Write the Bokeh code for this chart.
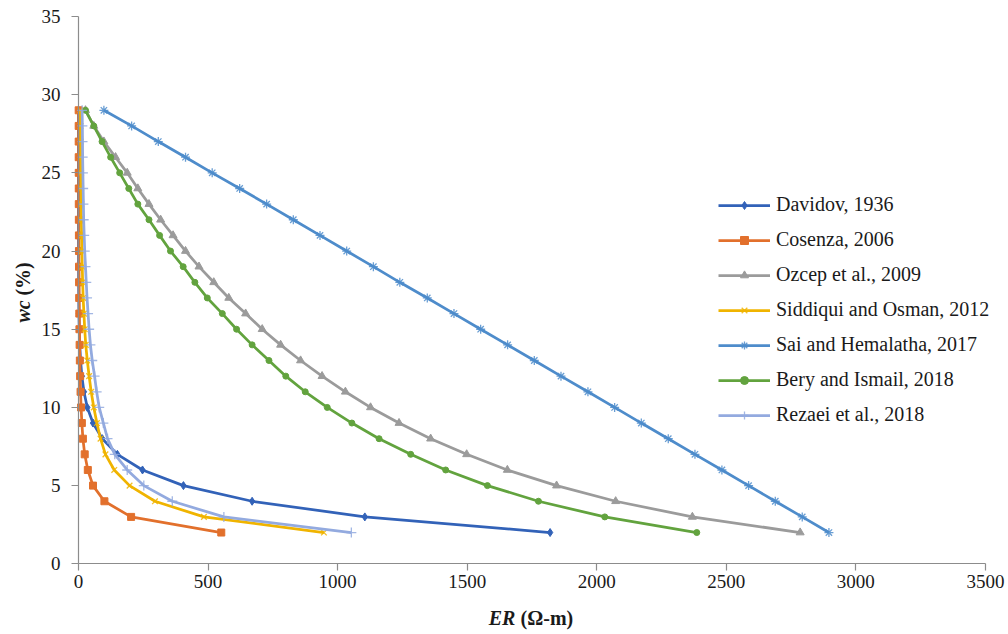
import math
from bokeh.plotting import figure
from bokeh.models import (Legend, LegendItem, Range1d, FixedTicker, LinearAxis, Label,
                          CustomJSTickFormatter)
from bokeh.core.properties import value
from bokeh.embed import file_html
from bokeh.resources import INLINE

# water content (%) from 2 to 29
wc = [2, 3, 4, 5, 6, 7, 8, 9, 10, 11, 12, 13, 14, 15, 16, 17, 18, 19, 20,
      21, 22, 23, 24, 25, 26, 27, 28, 29]

davidov = [1820, 1105, 670, 405, 247, 150, 92, 56, 34, 21, 13, 8, 4.8, 2.9,
           1.8, 1.1, 0.7, 0.4, 0.25, 0.15, 0.09, 0.06, 0.03, 0.02, 0.01,
           0.01, 0.005, 0.003]
cosenza = [551, 203, 100, 56, 36, 24, 17, 13, 10, 8, 6.4, 5.2, 4.4, 3.6, 3.1,
           2.7, 2.3, 2.0, 1.8, 1.6, 1.4, 1.2, 1.1, 1.0, 0.9, 0.8, 0.75, 0.7]
ozcep = [2785, 2369, 2073, 1845, 1655, 1498, 1359, 1237, 1127, 1030, 940, 857,
         780, 709, 645, 580, 522, 465, 413, 365, 317, 272, 229, 188, 143, 98,
         59, 27]
siddiqui = [947, 484, 295, 197, 138, 104, 85, 71, 59, 49, 41, 34, 28, 24, 21,
            18, 16, 14.5, 13, 12, 11, 10.5, 10, 9.5, 9, 8.5, 8, 7.5]
sai = [2896, 2793, 2689, 2586, 2483, 2379, 2276, 2172, 2069, 1966, 1862, 1759,
       1656, 1552, 1449, 1346, 1240, 1138, 1035, 932, 829, 726, 622, 516, 413,
       308, 205, 98]
bery = [2386, 2031, 1775, 1578, 1417, 1282, 1160, 1055, 960, 875, 800, 735,
        670, 610, 555, 497, 449, 404, 355, 313, 272, 229, 194, 159, 124, 91,
        59, 27]
rezaei = [1053, 561, 362, 252, 188, 140, 112, 96, 80, 70, 62, 53, 46, 41, 37,
          33, 30, 27, 24, 22, 20, 19, 18, 17, 16, 15.5, 15, 14]

series_names = ["Davidov, 1936", "Cosenza, 2006", "Ozcep et al., 2009",
                "Siddiqui and Osman, 2012", "Sai and Hemalatha, 2017",
                "Bery and Ismail, 2018", "Rezaei et al., 2018"]
series_values = [davidov, cosenza, ozcep, siddiqui, sai, bery, rezaei]

x_ticks = [0, 500, 1000, 1500, 2000, 2500, 3000, 3500]
y_ticks = [0, 5, 10, 15, 20, 25, 30, 35]
x_tick_labels = ["0", "500", "1000", "1500", "2000", "2500", "3000", "3500"]
y_tick_labels = ["0", "5", "10", "15", "20", "25", "30", "35"]

colors = ["#3262B8", "#E2702C", "#9B9B9B", "#F0B400", "#4E8CCB", "#62A33E", "#93AADF"]
markers = ["diamond", "square", "triangle", "x", "asterisk", "circle", "cross"]
msizes = [8, 7, 8, 8, 9, 6, 10]

SERIF = "Liberation Serif"
TXT = "#1a1a1a"

# frame covers the whole canvas; axes sit at data 0 (fixed_location)
p = figure(width=1008, height=634, x_range=Range1d(-301, 3589), y_range=Range1d(-4.52, 36.02),
           output_backend="svg", toolbar_location=None,
           x_axis_location=None, y_axis_location=None,
           min_border_left=0, min_border_right=0, min_border_top=0,
           min_border_bottom=0)
p.outline_line_color = None
p.xgrid.visible = False
p.ygrid.visible = False
p.background_fill_color = "white"

blank = CustomJSTickFormatter(code="return ''")
xax = LinearAxis(fixed_location=0, bounds=(0, 3500), ticker=FixedTicker(ticks=x_ticks),
                 formatter=blank)
yax = LinearAxis(fixed_location=0, bounds=(0, 35), ticker=FixedTicker(ticks=y_ticks),
                 formatter=blank)
for ax in (xax, yax):
    ax.axis_line_color = "#8C8C8C"
    ax.axis_line_width = 1.2
    ax.major_tick_line_color = "#8C8C8C"
    ax.major_tick_line_width = 1.2
    ax.major_tick_out = 7
    ax.major_tick_in = 0
    ax.minor_tick_out = 0
    ax.minor_tick_in = 0
p.add_layout(xax, "below")
p.add_layout(yax, "left")

# tick labels in the serif face
p.text(x=x_ticks, y=[0] * len(x_ticks), text=x_tick_labels, text_font=value(SERIF),
       text_font_size="19px", text_color=TXT, text_align="center",
       text_baseline="middle", y_offset=18)
p.text(x=[0] * len(y_ticks), y=y_ticks, text=y_tick_labels, text_font=value(SERIF),
       text_font_size="19px", text_color=TXT, text_align="right",
       text_baseline="middle", x_offset=-18)

items = []
for name, vals, col, mk, ms in zip(series_names, series_values, colors, markers, msizes):
    lr = p.line(vals, wc, line_color=col, line_width=2.75)
    if mk in ("x", "asterisk", "cross"):
        sr = p.scatter(vals, wc, marker=mk, size=ms, line_color=col, line_width=1.3,
                       fill_color=col, line_alpha=0.85)
    else:
        sr = p.scatter(vals, wc, marker=mk, size=ms, line_color=col, fill_color=col)
    items.append(LegendItem(label=name, renderers=[lr, sr]))

legend = Legend(items=items, location=(718, 208), border_line_color=None,
                background_fill_alpha=0, label_text_font=SERIF,
                label_text_font_size="20px", label_text_color=TXT,
                glyph_width=52, glyph_height=20, label_height=20, spacing=12,
                padding=0, margin=0, label_standoff=6)
p.add_layout(legend)

# axis titles: italic symbol + upright unit
p.add_layout(Label(x=1686, y=-3.45, text="ER", text_font=SERIF, text_font_size="20px",
                   text_font_style="bold italic", text_align="right", text_baseline="middle",
                   text_color=TXT))
p.add_layout(Label(x=1706, y=-3.45, text="(Ω-m)", text_font=SERIF, text_font_size="20px",
                   text_font_style="bold", text_align="left", text_baseline="middle",
                   text_color=TXT))
p.add_layout(Label(x=-216, y=15.43, text="wc", text_font=SERIF, text_font_size="20px",
                   text_font_style="bold italic", text_align="left", text_baseline="middle",
                   angle=math.pi / 2, text_color=TXT))
p.add_layout(Label(x=-216, y=17.15, text="(%)", text_font=SERIF, text_font_size="20px",
                   text_font_style="bold", text_align="left", text_baseline="middle",
                   angle=math.pi / 2, text_color=TXT))

open("out.html", "w").write(file_html(p, INLINE))
